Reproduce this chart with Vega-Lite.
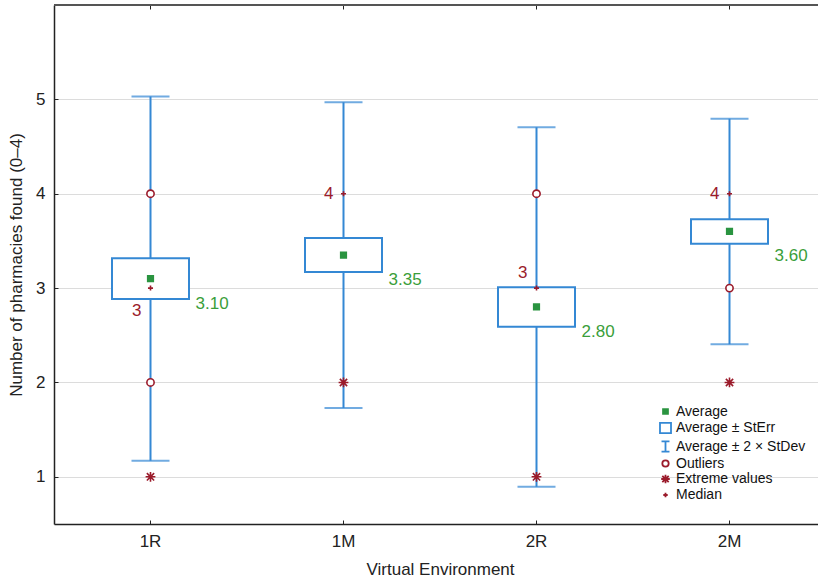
{
  "$schema": "https://vega.github.io/schema/vega-lite/v6.json",
  "width": 764,
  "height": 519,
  "autosize": {"type": "none"},
  "padding": {"left": 54, "top": 5, "right": 0, "bottom": 60},
  "background": "white",
  "datasets": {
    "stats": [
      {"env": "1R", "mean": 3.10, "se_lo": 2.885, "se_hi": 3.315, "sd_lo": 1.17, "sd_hi": 5.03},
      {"env": "1M", "mean": 3.35, "se_lo": 3.17, "se_hi": 3.53, "sd_lo": 1.73, "sd_hi": 4.97},
      {"env": "2R", "mean": 2.80, "se_lo": 2.59, "se_hi": 3.01, "sd_lo": 0.895, "sd_hi": 4.705},
      {"env": "2M", "mean": 3.60, "se_lo": 3.47, "se_hi": 3.73, "sd_lo": 2.405, "sd_hi": 4.795}
    ],
    "points": [
      {"env": "1R", "type": "Average", "value": 3.10},
      {"env": "1M", "type": "Average", "value": 3.35},
      {"env": "2R", "type": "Average", "value": 2.80},
      {"env": "2M", "type": "Average", "value": 3.60},
      {"env": "1R", "type": "Outliers", "value": 4},
      {"env": "1R", "type": "Outliers", "value": 2},
      {"env": "2R", "type": "Outliers", "value": 4},
      {"env": "2M", "type": "Outliers", "value": 3},
      {"env": "1R", "type": "Extreme values", "value": 1},
      {"env": "1M", "type": "Extreme values", "value": 2},
      {"env": "2R", "type": "Extreme values", "value": 1},
      {"env": "2M", "type": "Extreme values", "value": 2},
      {"env": "1R", "type": "Median", "value": 3},
      {"env": "1M", "type": "Median", "value": 4},
      {"env": "2R", "type": "Median", "value": 3},
      {"env": "2M", "type": "Median", "value": 4}
    ]
  },
  "resolve": {"axis": {"x": "independent"}},
  "layer": [
    {
      "data": {"name": "stats"},
      "mark": {"type": "rule", "color": "#3488d4", "strokeWidth": 2},
      "encoding": {
        "x": {
          "field": "env", "type": "nominal",
          "scale": {"type": "band", "domain": ["1R", "1M", "2R", "2M"], "range": [0, 772], "paddingInner": 0, "paddingOuter": 0},
          "axis": {
            "title": "Virtual Environment", "titleFontSize": 17, "titleFontWeight": "normal", "titleColor": "#222",
            "titlePadding": 12,
            "labelAngle": 0, "labelFontSize": 17, "labelColor": "#222", "labelPadding": 13,
            "domain": true, "domainColor": "#222", "domainWidth": 1.5,
            "tickSize": -4, "tickColor": "#222", "tickWidth": 1, "grid": false
          }
        },
        "y": {
          "field": "sd_lo", "type": "quantitative",
          "scale": {"domain": [0.5, 6], "nice": false, "zero": false},
          "axis": {
            "title": "Number of pharmacies found (0–4)", "titleFontSize": 17, "titleFontWeight": "normal", "titleColor": "#222",
            "titleX": -38, "titleY": 259.5, "titleAngle": -90, "titleBaseline": "middle", "titleAlign": "center",
            "values": [1, 2, 3, 4, 5], "format": "d", "labelFontSize": 17, "labelColor": "#222", "labelPadding": 13,
            "domainColor": "#222", "domainWidth": 1.5, "tickSize": -4, "tickColor": "#222",
            "grid": true, "gridColor": "#dcdcdc", "gridWidth": 1
          }
        },
        "y2": {"field": "sd_hi"}
      }
    },
    {
      "data": {"name": "stats"},
      "mark": {"type": "tick", "color": "#3488d4", "size": 38, "thickness": 2},
      "encoding": {
        "x": {
          "field": "env", "type": "nominal",
          "axis": {"orient": "top", "labels": false, "domain": false, "title": null, "tickSize": -4, "tickColor": "#222", "tickWidth": 1, "grid": false}
        },
        "y": {"field": "sd_hi", "type": "quantitative"}
      }
    },
    {
      "data": {"name": "stats"},
      "mark": {"type": "tick", "color": "#3488d4", "size": 38, "thickness": 2},
      "encoding": {
        "x": {"field": "env", "type": "nominal", "axis": null},
        "y": {"field": "sd_lo", "type": "quantitative"}
      }
    },
    {
      "data": {"name": "stats"},
      "mark": {"type": "bar", "width": 77, "fill": "white", "stroke": "#3488d4", "strokeWidth": 2},
      "encoding": {
        "x": {"field": "env", "type": "nominal", "axis": null},
        "y": {"field": "se_lo", "type": "quantitative"},
        "y2": {"field": "se_hi"}
      }
    },
    {
      "data": {"values": [{}]},
      "mark": {"type": "rule", "color": "#555555", "strokeWidth": 2},
      "encoding": {"y": {"datum": 6, "type": "quantitative"}}
    },
    {
      "data": {"name": "points"},
      "mark": {"type": "point", "size": 196, "strokeWidth": 1.6, "opacity": 1},
      "encoding": {
        "x": {"field": "env", "type": "nominal", "axis": null},
        "y": {"field": "value", "type": "quantitative"},
        "shape": {
          "field": "type", "type": "nominal",
          "scale": {
            "domain": ["Average", "Average ± StErr", "Average ± 2 × StDev", "Outliers", "Extreme values", "Median"],
            "range": [
              "M-0.4,-0.4L0.4,-0.4L0.4,0.4L-0.4,0.4Z",
              "M-0.9,-0.85L0.9,-0.85L0.9,0.85L-0.9,0.85Z",
              "M-0.65,-0.85L0.65,-0.85M0,-0.85L0,0.85M-0.65,0.85L0.65,0.85",
              "M0.52,0A0.52,0.52 0 1,1 -0.52,0A0.52,0.52 0 1,1 0.52,0Z",
              "M-0.7,0L0.7,0M0,-0.7L0,0.7M-0.52,-0.52L0.52,0.52M-0.52,0.52L0.52,-0.52",
              "M-0.36,0L0.36,0M0,-0.36L0,0.36"
            ]
          },
          "legend": {"title": null}
        },
        "fill": {
          "field": "type", "type": "nominal",
          "scale": {
            "domain": ["Average", "Average ± StErr", "Average ± 2 × StDev", "Outliers", "Extreme values", "Median"],
            "range": ["#2a9440", "white", "transparent", "white", "transparent", "transparent"]
          },
          "legend": {"title": null}
        },
        "stroke": {
          "field": "type", "type": "nominal",
          "scale": {
            "domain": ["Average", "Average ± StErr", "Average ± 2 × StDev", "Outliers", "Extreme values", "Median"],
            "range": ["#2a9440", "#3488d4", "#3488d4", "#9b1b2b", "#9b1b2b", "#9b1b2b"]
          },
          "legend": {"title": null}
        }
      }
    },
    {
      "data": {"name": "stats"},
      "mark": {"type": "text", "align": "left", "baseline": "middle", "dx": 45, "dy": 25, "fontSize": 17, "color": "#3a9e3a"},
      "encoding": {
        "x": {"field": "env", "type": "nominal", "axis": null},
        "y": {"field": "mean", "type": "quantitative"},
        "text": {"field": "mean", "type": "quantitative", "format": ".2f"}
      }
    },
    {
      "data": {"name": "points"},
      "transform": [{"filter": "datum.type === 'Median' && (datum.env === '1M' || datum.env === '2M')"}],
      "mark": {"type": "text", "align": "right", "baseline": "middle", "dx": -10, "dy": 0, "fontSize": 17, "color": "#9b1b2b"},
      "encoding": {
        "x": {"field": "env", "type": "nominal", "axis": null},
        "y": {"field": "value", "type": "quantitative"},
        "text": {"field": "value", "type": "quantitative", "format": "d"}
      }
    },
    {
      "data": {"name": "points"},
      "transform": [{"filter": "datum.type === 'Median' && datum.env === '2R'"}],
      "mark": {"type": "text", "align": "right", "baseline": "middle", "dx": -9, "dy": -15, "fontSize": 17, "color": "#9b1b2b"},
      "encoding": {
        "x": {"field": "env", "type": "nominal", "axis": null},
        "y": {"field": "value", "type": "quantitative"},
        "text": {"field": "value", "type": "quantitative", "format": "d"}
      }
    },
    {
      "data": {"name": "points"},
      "transform": [{"filter": "datum.type === 'Median' && datum.env === '1R'"}],
      "mark": {"type": "text", "align": "right", "baseline": "middle", "dx": -9, "dy": 23, "fontSize": 17, "color": "#9b1b2b"},
      "encoding": {
        "x": {"field": "env", "type": "nominal", "axis": null},
        "y": {"field": "value", "type": "quantitative"},
        "text": {"field": "value", "type": "quantitative", "format": "d"}
      }
    }
  ],
  "config": {
    "font": "Liberation Sans",
    "view": {"stroke": null},
    "legend": {
      "orient": "none", "legendX": 604, "legendY": 399, "padding": 0,
      "labelFont": "Liberation Sans", "labelFontSize": 14, "labelColor": "#111",
      "symbolSize": 150, "symbolStrokeWidth": 1.8, "rowPadding": -0.5, "labelOffset": 3
    }
  }
}
